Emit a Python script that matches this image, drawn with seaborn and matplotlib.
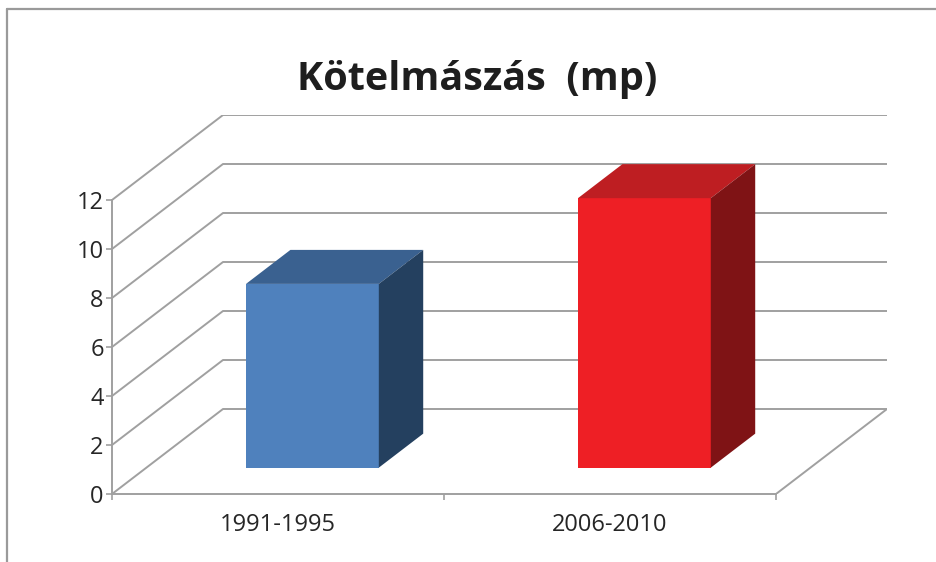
import matplotlib
matplotlib.use("Agg")
import matplotlib.pyplot as plt
from matplotlib.patches import Polygon
from matplotlib.lines import Line2D
import pandas as pd
import seaborn as sns

# chart data
periods = ["1991-1995", "2006-2010"]
seconds = [7.5, 11.0]
y_ticks = [0, 2, 4, 6, 8, 10, 12]
title = "Kötelmászás  (mp)"

front_colors = ["#4F81BD", "#EE1F25"]
top_colors = ["#3A6190", "#BE1E22"]
side_colors = ["#24405F", "#7F1315"]
grid_color = "#A0A0A0"

sns.set_style("white")
plt.rcParams["font.family"] = ["Open Sans", "DejaVu Sans"]

W, H = 937, 562
fig = plt.figure(figsize=(W / 100, H / 100), dpi=100)

# pixel layout of the "3d" box (measured from top-left of the image)
front_left, front_right = 112, 776
floor_y, top_y = 494, 200
depth_px = (111, -85)

x_unit = (front_right - front_left) / len(periods)
y_unit = (floor_y - top_y) / y_ticks[-1]
dx = depth_px[0] / x_unit
dy = -depth_px[1] / y_unit

left = front_left
right = front_right + depth_px[0]
top = top_y + depth_px[1]
ax = fig.add_axes([left / W, (H - floor_y) / H, (right - left) / W, (floor_y - top) / H])

df = pd.DataFrame({"period": periods, "seconds": seconds})
sns.barplot(data=df, x="period", y="seconds", hue="period", palette=front_colors,
            width=0.4, legend=False, saturation=1, ax=ax, zorder=3)

ax.set_xlim(-0.5, len(periods) - 0.5 + dx)
ax.set_ylim(0, y_ticks[-1] + dy)

# walls: diagonal lines on the left side and horizontal lines on the back
x_lo, x_hi = -0.5, len(periods) - 0.5
for t in y_ticks:
    ax.plot([x_lo, x_lo + dx, x_hi + dx], [t, t + dy, t + dy],
            color=grid_color, lw=1.4, zorder=1, solid_capstyle="butt")
# floor right edge
ax.plot([x_hi, x_hi + dx], [0, dy], color=grid_color, lw=1.4, zorder=1)

# move bars into the middle of the depth and add top/side faces
front_depth, bar_depth = 0.31, 0.40
for i, p in enumerate(ax.patches):
    p.set_x(p.get_x() + front_depth * dx)
    p.set_y(p.get_y() + front_depth * dy)
    p.set_linewidth(0)
    xl, yb, w, h = p.get_x(), p.get_y(), p.get_width(), p.get_height()
    bx, by = bar_depth * dx, bar_depth * dy
    top_face = [(xl, yb + h), (xl + w, yb + h), (xl + w + bx, yb + h + by), (xl + bx, yb + h + by)]
    side_face = [(xl + w, yb), (xl + w + bx, yb + by), (xl + w + bx, yb + h + by), (xl + w, yb + h)]
    ax.add_patch(Polygon(top_face, closed=True, facecolor=top_colors[i], edgecolor="none", zorder=3))
    ax.add_patch(Polygon(side_face, closed=True, facecolor=side_colors[i], edgecolor="none", zorder=3))

# axes lines
for s in ["top", "right"]:
    ax.spines[s].set_visible(False)
ax.spines["left"].set_bounds(0, y_ticks[-1])
ax.spines["bottom"].set_bounds(x_lo, x_hi)
for s in ["left", "bottom"]:
    ax.spines[s].set_color(grid_color)
    ax.spines[s].set_linewidth(1.4)
    ax.spines[s].set_zorder(2)

ax.set_yticks(y_ticks)
ax.set_yticklabels([str(t) for t in y_ticks])
ax.tick_params(axis="y", length=4, width=1.2, color=grid_color, pad=2,
               labelsize=17, labelcolor="#262626", left=True)

ax.set_xticks(range(len(periods)))
ax.set_xticklabels(periods)
ax.set_xticks([x_lo + k for k in range(len(periods) + 1)], minor=True)
ax.tick_params(axis="x", which="major", length=0, pad=14, labelsize=17, labelcolor="#262626")
ax.tick_params(axis="x", which="minor", length=4, width=1.2, color=grid_color, bottom=True)
ax.set_xlabel("")
ax.set_ylabel("")
ax.patch.set_alpha(0)

# title
fig.text(477.5 / W, 1 - 90 / H, title, ha="center", va="baseline",
         fontsize=28.5, fontweight="bold", color="#1E1E1E")

# chart frame (only left and top edges are inside the picture)
fig.add_artist(Line2D([7.5 / W, 7.5 / W], [0, 1 - 9 / H], color="#9A9A9A", lw=1.6))
fig.add_artist(Line2D([7.5 / W, 1], [1 - 9 / H, 1 - 9 / H], color="#9A9A9A", lw=1.6))

fig.savefig("out.png", dpi=100)
